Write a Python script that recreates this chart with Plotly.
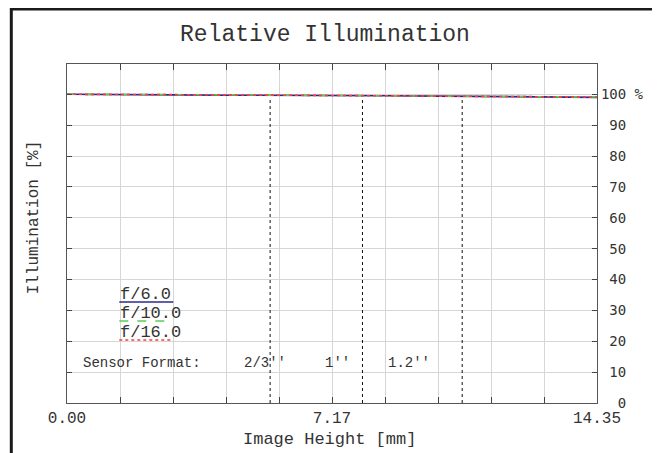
import plotly.graph_objects as go

# image height [mm] and relative illumination [%] per f-number
image_height = [0.0, 1.435, 2.87, 4.305, 5.74, 7.175, 8.61, 10.045, 11.48, 12.915, 14.35]
illum_f6 = [100.0, 100.0, 99.8, 99.7, 99.7, 99.6, 99.5, 99.4, 99.3, 99.1, 99.0]
illum_f10 = [100.0, 100.0, 99.9, 99.8, 99.7, 99.6, 99.5, 99.4, 99.3, 99.2, 99.1]
illum_f16 = [100.0, 100.0, 99.9, 99.8, 99.7, 99.6, 99.5, 99.4, 99.3, 99.2, 99.1]

series_names = ['f/6.0', 'f/10.0', 'f/16.0']
series_colors = ['#2a2a90', '#55d055', '#ff3a3a']
series_dash = ['solid', 'dash', 'dot']

sensor_names = ["2/3''", "1''", "1.2''"]
sensor_half_diag = [5.5, 8.0, 10.7]
sensor_top = 98.6

x_ticks = image_height
x_ticktext = ['0.00', '', '', '', '', '7.17', '', '', '', '', '14.35']
y_ticks = [0, 10, 20, 30, 40, 50, 60, 70, 80, 90, 100]
y_ticktext = ['\u00a0\u00a00', '\u00a010', '\u00a020', '\u00a030', '\u00a040', '\u00a050',
              '\u00a060', '\u00a070', '\u00a080', '\u00a090', '100 %']

# the page body adds an 8px margin, so the figure is drawn 8px smaller
OFF = 8
W, H = 660 - OFF, 453 - OFF
L, R, T, B = 66.7, 596.7, 64, 403   # plot area in window pixels
PW, PH = R - L, B - T


def px(x):
    return (x - L) / PW


def py(y):
    return (B - y) / PH


MONO = 'Liberation Mono, Courier New, monospace'
TXT = '#333'

fig = go.Figure()

for i, hd in enumerate(sensor_half_diag):
    fig.add_trace(go.Scatter(
        x=[hd, hd], y=[0, sensor_top], mode='lines',
        line=dict(color='#111', width=1, dash='dot'),
        hoverinfo='skip'
    ))

for vals, name, col, dash in zip([illum_f6, illum_f10, illum_f16], series_names, series_colors, series_dash):
    fig.add_trace(go.Scatter(
        x=image_height, y=vals, mode='lines', name=name,
        line=dict(color=col, width=1.6, dash=dash)
    ))

# hand-drawn legend: label above a line sample
legend_y = [294, 313, 332]
shapes = []
annotations = []
for name, col, dash, ly in zip(series_names, series_colors, series_dash, legend_y):
    annotations.append(dict(
        x=px(118), y=py(ly), xref='paper', yref='paper', text=name,
        showarrow=False, xanchor='left', yanchor='middle',
        font=dict(family=MONO, size=17, color=TXT)
    ))
    shapes.append(dict(
        type='line', xref='paper', yref='paper',
        x0=px(119), x1=px(173), y0=py(ly + 8), y1=py(ly + 8),
        line=dict(color=col, width=1.3, dash=dash)
    ))

annotations.append(dict(
    x=px(81), y=py(363), xref='paper', yref='paper', text='Sensor Format:',
    showarrow=False, xanchor='left', yanchor='middle',
    font=dict(family=MONO, size=14, color=TXT)
))
for name, cx in zip(sensor_names, [265, 337, 409]):
    annotations.append(dict(
        x=px(cx), y=py(363), xref='paper', yref='paper', text=name,
        showarrow=False, xanchor='center', yanchor='middle',
        font=dict(family=MONO, size=14, color=TXT)
    ))

annotations.append(dict(
    x=px(329), y=py(439), xref='paper', yref='paper', text='Image Height [mm]',
    showarrow=False, xanchor='center', yanchor='middle',
    font=dict(family=MONO, size=17, color=TXT)
))
annotations.append(dict(
    x=px(34), y=py(217), xref='paper', yref='paper', text='Illumination [%]',
    showarrow=False, xanchor='center', yanchor='middle', textangle=-90,
    font=dict(family=MONO, size=16, color=TXT)
))

# outer black frame
shapes.append(dict(
    type='rect', xref='paper', yref='paper', layer='above',
    x0=px(11), x1=px(656), y0=py(475), y1=py(9),
    line=dict(color='#1a1a1a', width=3)
))

fig.update_layout(
    width=W, height=H,
    showlegend=False,
    title=dict(
        text='Relative Illumination', x=(325 - OFF) / W, xref='container', xanchor='center',
        y=1 - (33 - OFF) / H, yref='container', yanchor='middle',
        font=dict(family=MONO, size=23, color=TXT)
    ),
    xaxis=dict(
        range=[0, 14.35], tickmode='array', tickvals=x_ticks, ticktext=x_ticktext,
        ticks='inside', ticklen=6, tickcolor='#444', showline=True, linecolor='#555',
        linewidth=1.2, mirror='ticks', showgrid=True, gridcolor='#d6d6d6', gridwidth=1,
        zeroline=False, tickfont=dict(family=MONO, size=16, color=TXT)
    ),
    yaxis=dict(
        range=[0, 109.8], side='right', tickmode='array', tickvals=y_ticks, ticktext=y_ticktext,
        ticks='inside', ticklen=5, tickcolor='#444', showline=True, linecolor='#555',
        linewidth=1.2, mirror='ticks', showgrid=True, gridcolor='#d6d6d6', gridwidth=1,
        zeroline=False, tickfont=dict(family='DejaVu Sans Mono, monospace', size=14, color=TXT)
    ),
    shapes=shapes,
    annotations=annotations,
    plot_bgcolor='white',
    paper_bgcolor='white',
    margin=dict(l=L - OFF, r=660 - R, t=T - OFF, b=453 - B)
)

fig.write_html('out.html')
